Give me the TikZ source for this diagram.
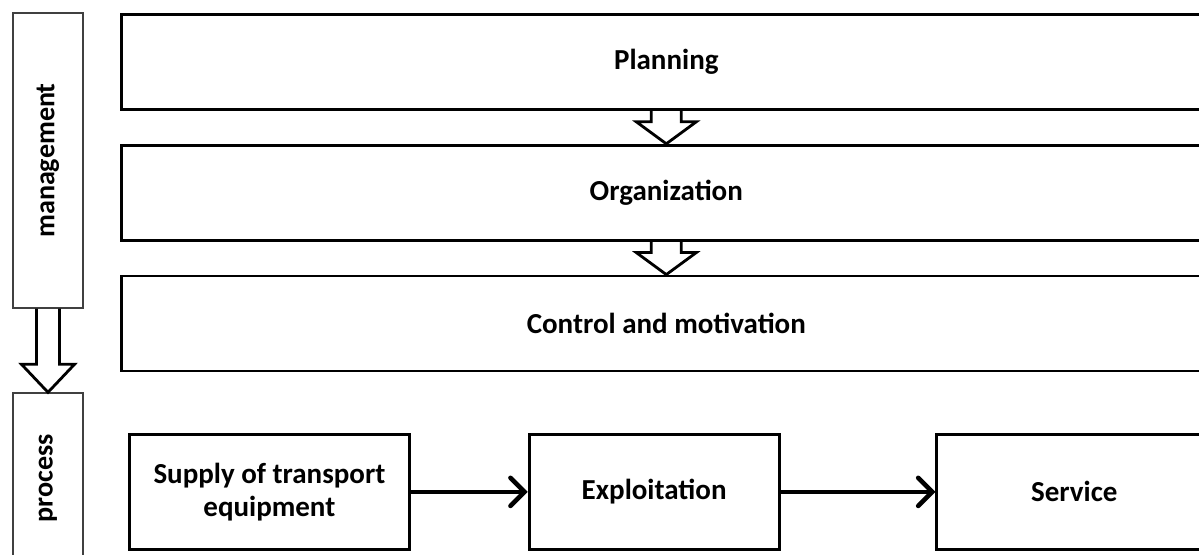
\documentclass[tikz,border=0pt]{standalone}
\usepackage{fontspec}
\setmainfont{Carlito}
\usetikzlibrary{arrows.meta, positioning, calc}

\tikzset{
    stage/.style={draw, line width=1.6pt, rectangle, minimum width=21.8cm, minimum height=1.9cm, inner sep=0pt, font=\bfseries\fontsize{16.5}{19}\selectfont},
    stepbox/.style={draw, line width=1.6pt, rectangle, minimum height=2.3cm, inner sep=0pt, align=center, font=\bfseries\fontsize{16.5}{19}\selectfont},
    side/.style={draw=black!75, line width=0.8pt, rectangle, minimum width=1.4cm, inner sep=0pt, font=\bfseries\fontsize{16}{19}\selectfont},
    hollow/.style={line width=1.6pt, line join=miter},
    flow/.style={line width=2.6pt, -{Straight Barb[length=8pt, width=16pt, line cap=round]}}
}

% hollow block arrow from one node down to the next
\newcommand{\blockarrow}[5]{% from, to, shaft half width, head half width, head length
    \draw[hollow] ($(#1.south)+(-#3,0)$) -- ($(#2.north)+(-#3,#5)$) -- ($(#2.north)+(-#4,#5)$)
        -- (#2.north) -- ($(#2.north)+(#4,#5)$) -- ($(#2.north)+(#3,#5)$) -- ($(#1.south)+(#3,0)$);
}

\begin{document}
\begin{tikzpicture}[x=0.02cm, y=-0.02cm]
        \useasboundingbox (0,0) rectangle (1199,554);
        \clip (0,0) rectangle (1199,554);

        % Side labels
        \node (management) [side, minimum height=5.9cm] at (48,160.5) {\rotatebox{90}{management}};
        \node (process) [side, minimum height=3.4cm] at (48,478) {\rotatebox{90}{process}};

        % Management stages
        \node (planning) [stage, anchor=north west] at (120,13) {Planning};
        \node (organization) [stage, below=0.66cm of planning] {Organization};
        \node (control) [stage, below=0.66cm of organization] {Control and motivation};

        % Process steps
        \node (supply) [stepbox, minimum width=5.6cm, anchor=north west] at (128,433) {Supply of transport\\equipment};
        \node (exploitation) [stepbox, minimum width=5cm, right=2.34cm of supply] {Exploitation};
        \node (service) [stepbox, minimum width=5.5cm, right=3.1cm of exploitation] {Service};

        % Arrows
        \blockarrow{management}{process}{0.23cm}{0.53cm}{0.56cm}
        \blockarrow{planning}{organization}{0.3cm}{0.6cm}{0.44cm}
        \blockarrow{organization}{control}{0.3cm}{0.6cm}{0.44cm}
        \draw[flow] (supply) -- (exploitation);
        \draw[flow] (exploitation) -- (service);
\end{tikzpicture}
\end{document}
